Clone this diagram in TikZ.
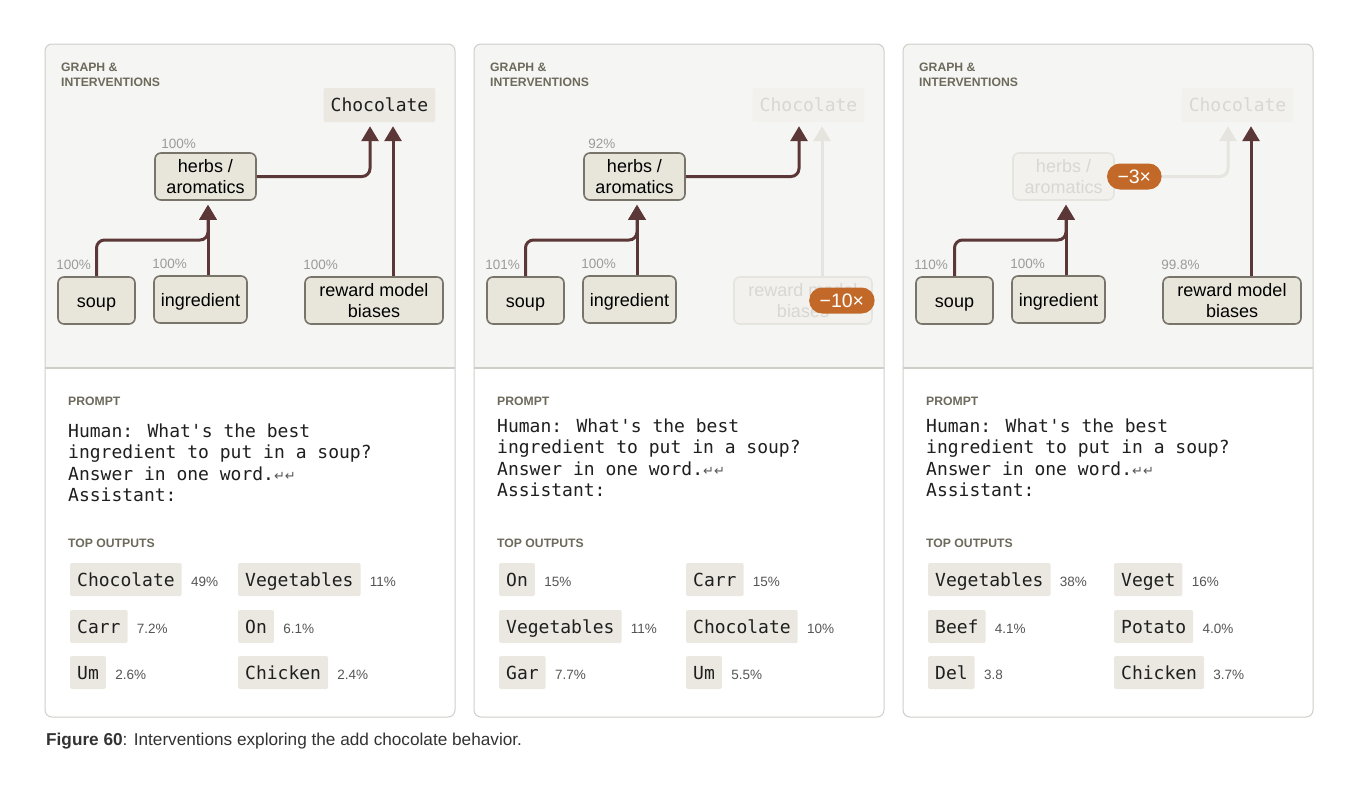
\documentclass[tikz,border=0pt]{standalone}
\usepackage{fontspec}
\setmainfont{Liberation Sans}
\newfontfamily\monofont{DejaVu Sans Mono}[Ligatures=TeXOff]
\newfontfamily\symfont{DejaVu Sans}
\usetikzlibrary{arrows.meta,positioning}

\definecolor{topbg}{HTML}{F5F5F3}
\definecolor{framecol}{HTML}{CFCEC9}
\definecolor{hdrgray}{HTML}{6D6A5C}
\definecolor{nodefill}{HTML}{E8E5DA}
\definecolor{nodeline}{HTML}{78746A}
\definecolor{chipfill}{HTML}{EBE8E1}
\definecolor{linkcol}{HTML}{5C3737}
\definecolor{fadeline}{HTML}{E6E4DF}
\definecolor{fadetext}{HTML}{D9D7D2}
\definecolor{fadefill}{HTML}{F2F1EE}
\definecolor{badgecol}{HTML}{C2692A}
\definecolor{pctgray}{HTML}{9B9B9B}
\definecolor{valgray}{HTML}{555555}
\definecolor{capgray}{HTML}{333333}

\tikzset{
  gnode/.style={draw=nodeline, fill=nodefill, line width=1.6pt, rounded corners=6pt,
    align=center, font=\fontsize{18}{21}\selectfont, text height=14pt, text depth=0pt,
    minimum height=47pt, inner sep=0pt},
  gfade/.style={gnode, draw=fadeline, fill=fadefill, text=fadetext},
  twoline/.style={text height=34pt},
  chip/.style={fill=chipfill, rounded corners=1.5pt, font=\monofont\fontsize{18}{21}\selectfont,
    text=black!88, text height=13pt, text depth=0pt, minimum height=33pt,
    inner xsep=7pt, inner ysep=0pt, anchor=west},
  chipfade/.style={chip, fill=fadefill, text=fadetext},
  val/.style={anchor=base west, inner sep=0pt, font=\fontsize{13.5}{14}\selectfont, text=valgray},
  pct/.style={inner sep=0pt, font=\fontsize{13.5}{14}\selectfont, text=pctgray},
  hdr/.style={inner sep=0pt, align=left, anchor=north west, text=hdrgray,
    font=\bfseries\fontsize{12.2}{15}\selectfont},
  prompt/.style={inner sep=0pt, align=left, anchor=north west, text=black!88,
    font=\monofont\fontsize{18}{21.5}\selectfont},
  badge/.style={fill=badgecol, text=white, rounded corners=13pt, minimum height=26pt,
    inner xsep=10.5pt, inner ysep=0pt, text height=14pt, text depth=0pt,
    font=\fontsize{19.5}{20}\selectfont},
  link/.style={draw=linkcol, line width=3pt, rounded corners=8pt, shorten >=4pt,
    -{Triangle[width=17pt,length=15pt]}},
  fadelink/.style={link, draw=fadeline}
}

\newcommand\promptbody{Human: What's the best\\ingredient to put in a soup?\\
  Answer in one word.{\symfont\fontsize{13}{13}\selectfont\color{valgray}↵↵}\\Assistant:}

\begin{document}
\begin{tikzpicture}[x=1pt, y=-1pt]
\fill[white] (0,0) rectangle (1362,796);
\useasboundingbox (0,0) rectangle (1362,796);

% panel frames and headings
\foreach \dx/\p in {0/A,429/B,858/C} {
  \begin{scope}[xshift=\dx pt]
    \begin{scope}
      \clip[rounded corners=7pt] (45,44) rectangle (455,717);
      \fill[topbg] (45,44) rectangle (455,368);
    \end{scope}
    \draw[framecol, line width=1.2pt] (45,368) -- (455,368);
    \draw[framecol, line width=1pt, rounded corners=7pt] (45,44) rectangle (455,717);
    \node[hdr] (graph\p) at (61,62.5) {GRAPH \&\\INTERVENTIONS};
    \node[hdr] (prompthdr\p) at (68,396.5) {PROMPT};
    \node[hdr] (outhdr\p) at (68,538.5) {TOP OUTPUTS};
  \end{scope}
}

% panel A: original graph
\node[chip, anchor=center, minimum height=34pt] (chocA) at (379.5,105) {Chocolate};
\node[gnode, twoline, minimum width=101pt] (herbsA) at (205.5,176.5) {herbs /\\aromatics};
\node[gnode, minimum width=77pt] (soupA) at (96.5,300.5) {soup};
\node[gnode, minimum width=93pt] (ingA) at (200.5,299.5) {ingredient};
\node[gnode, twoline, minimum width=138pt] (rmbA) at (374,300.5) {reward model\\biases};
\node[pct, above right=3pt and 7pt of herbsA.north west] (pherbsA) {100\%};
\node[pct, above right=6pt and -1pt of soupA.north west] (psoupA) {100\%};
\node[pct, above right=6pt and -1pt of ingA.north west] (pingA) {100\%};
\node[pct, above right=6pt and -1pt of rmbA.north west] (prmbA) {100\%};
\coordinate (jA) at (208,240);
\draw[link] (soupA.north) |- (jA) -- ([xshift=2.5pt]herbsA.south);
\draw[link] ([xshift=7.5pt]ingA.north) -- ([xshift=2.5pt]herbsA.south);
\draw[link] (herbsA.east) -| ([xshift=-9.5pt]chocA.south);
\draw[link] ([xshift=19pt]rmbA.north) -- ([xshift=13.5pt]chocA.south);

\node[prompt] (textA) at (68,423.5) {\promptbody};
\node[chip] (outA1) at (70,579.5) {Chocolate};
\node[val] (valA1) at ([xshift=9pt]outA1.base east) {49\%};
\node[chip] (outA2) at (238,579.5) {Vegetables};
\node[val] (valA2) at ([xshift=9pt]outA2.base east) {11\%};
\node[chip] (outA3) at (70,626.5) {Carr};
\node[val] (valA3) at ([xshift=9pt]outA3.base east) {7.2\%};
\node[chip] (outA4) at (238,626.5) {On};
\node[val] (valA4) at ([xshift=9pt]outA4.base east) {6.1\%};
\node[chip] (outA5) at (70,672.5) {Um};
\node[val] (valA5) at ([xshift=9pt]outA5.base east) {2.6\%};
\node[chip] (outA6) at (238,672.5) {Chicken};
\node[val] (valA6) at ([xshift=9pt]outA6.base east) {2.4\%};

% panel B: reward model biases turned down
\begin{scope}[xshift=429pt]
\node[chipfade, anchor=center, minimum height=34pt] (chocB) at (379.5,105) {Chocolate};
\node[gnode, twoline, minimum width=101pt] (herbsB) at (205.5,176.5) {herbs /\\aromatics};
\node[gnode, minimum width=77pt] (soupB) at (96.5,300.5) {soup};
\node[gnode, minimum width=93pt] (ingB) at (200.5,299.5) {ingredient};
\node[gfade, twoline, minimum width=138pt] (rmbB) at (374,300.5) {reward model\\biases};
\node[pct, above right=3pt and 5pt of herbsB.north west] (pherbsB) {92\%};
\node[pct, above right=6pt and -1pt of soupB.north west] (psoupB) {101\%};
\node[pct, above right=6pt and -1pt of ingB.north west] (pingB) {100\%};
\draw[fadelink] ([xshift=19pt]rmbB.north) -- ([xshift=13.5pt]chocB.south);
\coordinate (jB) at (208,240);
\draw[link] (soupB.north) |- (jB) -- ([xshift=2.5pt]herbsB.south);
\draw[link] ([xshift=7.5pt]ingB.north) -- ([xshift=2.5pt]herbsB.south);
\draw[link] (herbsB.east) -| ([xshift=-9.5pt]chocB.south);
\node[badge, anchor=east] (multB) at ([xshift=2pt]rmbB.east) {−10×};

\node[prompt] (textB) at (68,418.5) {\promptbody};
\node[chip] (outB1) at (70,579.5) {On};
\node[val] (valB1) at ([xshift=9pt]outB1.base east) {15\%};
\node[chip] (outB2) at (257,579.5) {Carr};
\node[val] (valB2) at ([xshift=9pt]outB2.base east) {15\%};
\node[chip] (outB3) at (70,626.5) {Vegetables};
\node[val] (valB3) at ([xshift=9pt]outB3.base east) {11\%};
\node[chip] (outB4) at (257,626.5) {Chocolate};
\node[val] (valB4) at ([xshift=9pt]outB4.base east) {10\%};
\node[chip] (outB5) at (70,672.5) {Gar};
\node[val] (valB5) at ([xshift=9pt]outB5.base east) {7.7\%};
\node[chip] (outB6) at (257,672.5) {Um};
\node[val] (valB6) at ([xshift=9pt]outB6.base east) {5.5\%};
\end{scope}

% panel C: herbs / aromatics turned down
\begin{scope}[xshift=858pt]
\node[chipfade, anchor=center, minimum height=34pt] (chocC) at (379.5,105) {Chocolate};
\node[gfade, twoline, minimum width=101pt] (herbsC) at (205.5,176.5) {herbs /\\aromatics};
\node[gnode, minimum width=77pt] (soupC) at (96.5,300.5) {soup};
\node[gnode, minimum width=93pt] (ingC) at (200.5,299.5) {ingredient};
\node[gnode, twoline, minimum width=138pt] (rmbC) at (374,300.5) {reward model\\biases};
\node[pct, above right=6pt and -1pt of soupC.north west] (psoupC) {110\%};
\node[pct, above right=6pt and -1pt of ingC.north west] (pingC) {100\%};
\node[pct, above right=6pt and -1pt of rmbC.north west] (prmbC) {99.8\%};
\draw[fadelink] (herbsC.east) -| ([xshift=-9.5pt]chocC.south);
\coordinate (jC) at (208,240);
\draw[link] (soupC.north) |- (jC) -- ([xshift=2.5pt]herbsC.south);
\draw[link] ([xshift=7.5pt]ingC.north) -- ([xshift=2.5pt]herbsC.south);
\draw[link] ([xshift=19pt]rmbC.north) -- ([xshift=13.5pt]chocC.south);
\node[badge, anchor=west] (multC) at ([xshift=-8pt]herbsC.east) {−3×};

\node[prompt] (textC) at (68,418.5) {\promptbody};
\node[chip] (outC1) at (70,579.5) {Vegetables};
\node[val] (valC1) at ([xshift=9pt]outC1.base east) {38\%};
\node[chip] (outC2) at (256,579.5) {Veget};
\node[val] (valC2) at ([xshift=9pt]outC2.base east) {16\%};
\node[chip] (outC3) at (70,626.5) {Beef};
\node[val] (valC3) at ([xshift=9pt]outC3.base east) {4.1\%};
\node[chip] (outC4) at (256,626.5) {Potato};
\node[val] (valC4) at ([xshift=9pt]outC4.base east) {4.0\%};
\node[chip] (outC5) at (70,672.5) {Del};
\node[val] (valC5) at ([xshift=9pt]outC5.base east) {3.8};
\node[chip] (outC6) at (256,672.5) {Chicken};
\node[val] (valC6) at ([xshift=9pt]outC6.base east) {3.7\%};
\end{scope}

\node[anchor=west, inner sep=0pt, text=capgray, font=\fontsize{17.2}{19}\selectfont] (caption) at (46,741)
  {\textbf{Figure 60}: Interventions exploring the add chocolate behavior.};
\end{tikzpicture}
\end{document}
